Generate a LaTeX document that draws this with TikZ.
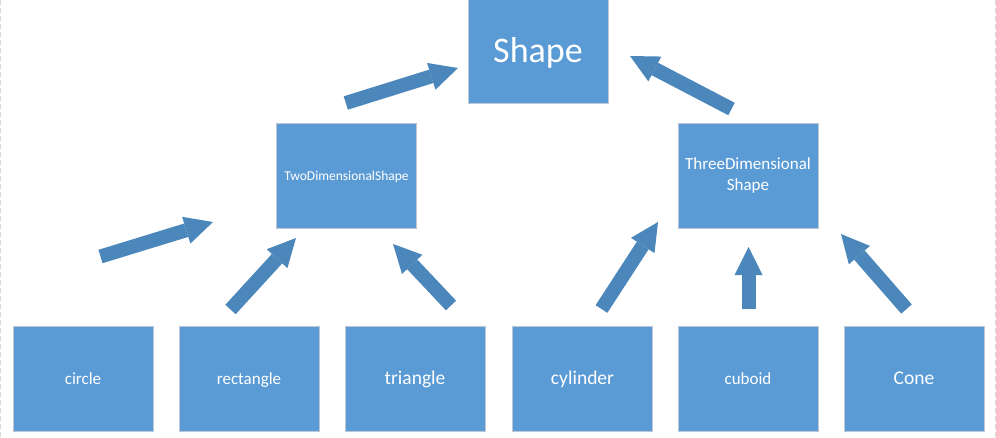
\documentclass[tikz,border=0pt]{standalone}
\usepackage{fontspec}
\setmainfont{Carlito}
\usetikzlibrary{arrows.meta}
\definecolor{boxblue}{HTML}{5B9BD5}
\definecolor{arrblue}{HTML}{4C87BB}
\definecolor{boxedge}{HTML}{BCC7D3}
\definecolor{pageedge}{HTML}{DADADA}
\tikzset{
  box/.style={draw=boxedge, line width=0.8pt, fill=boxblue, text=white,
    minimum width=140pt, minimum height=105pt, inner sep=0pt, align=center},
  leaf/.style={box, text height=15pt, text depth=4pt},
  blockarrow/.style={draw=arrblue, line width=14pt,
    -{Triangle[width=28pt,length=28pt,line width=0pt]}},
  pageline/.style={draw=pageedge, line width=0.8pt, dash pattern=on 5pt off 3pt}
}
\begin{document}
\begin{tikzpicture}[x=1pt,y=-1pt]
\useasboundingbox (0,0) rectangle (996,437);
\fill[white] (0,0) rectangle (996,437);
\draw[pageline] (0.8,0) -- (0.8,437);
\draw[pageline] (995,0) -- (995,437);

\node[box, font=\fontsize{36}{40}\selectfont, text height=30pt, text depth=7pt] (shape) at (538,50.5) {Shape};
\node[box, font=\fontsize{13.5}{16}\selectfont, text height=11pt, text depth=2pt] (two) at (346.5,175.5) {TwoDimensionalShape};
\node[box, font=\fontsize{17}{20.5}\selectfont] (three) at (748,175.5) {ThreeDimensional\\Shape};

\node[leaf, font=\fontsize{17}{20}\selectfont] (circle) at (83,378.5) {circle};
\node[leaf, font=\fontsize{17}{20}\selectfont] (rect) at (249,378.5) {rectangle};
\node[leaf, font=\fontsize{19.5}{23}\selectfont] (tri) at (415,378.5) {triangle};
\node[leaf, font=\fontsize{19.5}{23}\selectfont] (cyl) at (582.5,378.5) {cylinder};
\node[leaf, font=\fontsize{17}{20}\selectfont] (cub) at (748,378.5) {cuboid};
\node[leaf, font=\fontsize{19.5}{23}\selectfont] (cone) at (914,378.5) {Cone};

\coordinate (a1t) at (100.5,256.5); \coordinate (a1h) at (213,222);
\coordinate (a2t) at (230.5,309.5); \coordinate (a2h) at (296,238);
\coordinate (a3t) at (451,305.5);   \coordinate (a3h) at (393,244);
\coordinate (a4t) at (345.8,103);   \coordinate (a4h) at (458,68);
\coordinate (a5t) at (731.5,109);   \coordinate (a5h) at (630,56);
\coordinate (a6t) at (601.5,309);   \coordinate (a6h) at (658,222);
\coordinate (a7t) at (748.5,309);   \coordinate (a7h) at (748.5,247);
\coordinate (a8t) at (906.5,309);   \coordinate (a8h) at (841,234);

\draw[blockarrow] (a1t) -- (a1h);
\draw[blockarrow] (a2t) -- (a2h);
\draw[blockarrow] (a3t) -- (a3h);
\draw[blockarrow] (a4t) -- (a4h);
\draw[blockarrow] (a5t) -- (a5h);
\draw[blockarrow] (a6t) -- (a6h);
\draw[blockarrow] (a7t) -- (a7h);
\draw[blockarrow] (a8t) -- (a8h);
\end{tikzpicture}
\end{document}
